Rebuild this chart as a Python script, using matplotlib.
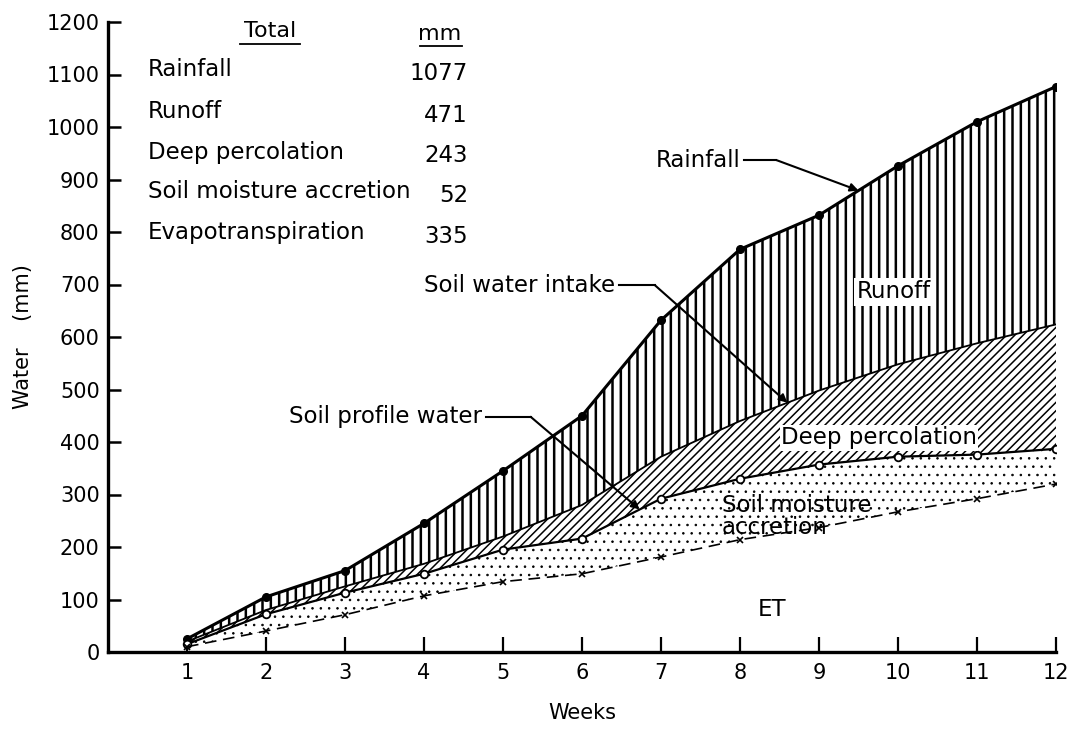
import matplotlib
matplotlib.use("Agg")
import matplotlib.pyplot as plt
import numpy as np

# cumulative water balance (mm)
weeks = np.arange(1, 13)
rainfall = [25, 105, 155, 245, 345, 450, 632, 767, 832, 926, 1010, 1077]
intake = [20, 80, 125, 168, 220, 280, 372, 440, 498, 548, 588, 624]
profile = [15, 72, 113, 149, 195, 216, 292, 330, 357, 372, 376, 387]
et = [10, 40, 71, 107, 134, 149, 181, 214, 237, 267, 292, 320]

table_names = ["Rainfall", "Runoff", "Deep percolation",
               "Soil moisture accretion", "Evapotranspiration"]
table_mm = ["1077", "471", "243", "52", "335"]

plt.rcParams["font.family"] = "DejaVu Sans"
W, H = 1071, 731
fig = plt.figure(figsize=(W / 100, H / 100), dpi=100)
ax = fig.add_axes([108 / W, 1 - 652 / H, (1056 - 108) / W, (652 - 22) / H])

# hatched bands
with plt.rc_context({"hatch.linewidth": 1.8}):
    ax.fill_between(weeks, intake, rainfall, facecolor="none", edgecolor="black",
                    linewidth=0, hatch="||")
with plt.rc_context({"hatch.linewidth": 1.1}):
    ax.fill_between(weeks, profile, intake, facecolor="none", edgecolor="black",
                    linewidth=0, hatch="////")
with plt.rc_context({"hatch.linewidth": 0.6}):
    ax.fill_between(weeks, et, profile, facecolor="none", edgecolor="black",
                    linewidth=0, hatch="..")

ax.plot(weeks, rainfall, color="black", lw=2.2, marker="o", ms=5.5)
ax.plot(weeks, intake, color="black", lw=1.3)
ax.plot(weeks, profile, color="black", lw=1.6, marker="o", ms=5.5,
        markerfacecolor="white", markeredgewidth=1.3)
ax.plot(weeks, et, color="black", lw=1.2, ls=(0, (7, 4)), marker="x", ms=4.5,
        markeredgewidth=1.2)

ax.set_xlim(0, 12)
ax.set_ylim(0, 1200)
ax.set_xticks(weeks)
ax.set_yticks(np.arange(0, 1201, 100))
for s in ["top", "right"]:
    ax.spines[s].set_visible(False)
for s in ["left", "bottom"]:
    ax.spines[s].set_linewidth(2.4)
ax.tick_params(axis="y", direction="in", length=9, width=1.8, labelsize=15, pad=6)
ax.tick_params(axis="x", direction="in", length=11, width=1.6, labelsize=15, pad=8)
ax.set_xlabel("Weeks", fontsize=15, labelpad=14)
ax.set_ylabel("Water    (mm)", fontsize=15, labelpad=10)

# in-plot labels
lab = dict(fontsize=16.5, color="black")
ax.text(9.95, 686, "Runoff", ha="center", va="center",
        bbox=dict(facecolor="white", edgecolor="none", pad=2), **lab)
ax.text(9.76, 408, "Deep percolation", ha="center", va="center",
        bbox=dict(facecolor="white", edgecolor="none", pad=1), **lab)
ax.text(7.77, 258, "Soil moisture\naccretion", ha="left", va="center",
        linespacing=0.9, **lab)
ax.text(8.40, 80, "ET", ha="center", va="center", **lab)


def callout(text, x_text, y_text, x_elbow, x_tip, series):
    y_tip = np.interp(x_tip, weeks, series)
    ax.text(x_text, y_text, text, ha="right", va="center", **lab)
    ax.plot([x_text + 0.05, x_elbow], [y_text, y_text], color="black", lw=1.5)
    ax.annotate("", xy=(x_tip, y_tip), xytext=(x_elbow, y_text),
                arrowprops=dict(arrowstyle="-|>", color="black", lw=1.5,
                                mutation_scale=12, shrinkA=0, shrinkB=0))


callout("Rainfall", 8.0, 937, 8.46, 9.5, rainfall)
callout("Soil water intake", 6.42, 699, 6.92, 8.6, intake)
callout("Soil profile water", 4.73, 448, 5.35, 6.73, profile)

# totals table
fig.text(270 / W, 1 - 31 / H, "Total", ha="center", va="center", fontsize=16)
fig.text(440 / W, 1 - 34 / H, "mm", ha="center", va="center", fontsize=16)
fig.add_artist(plt.Line2D([240 / W, 300 / W], [1 - 44 / H, 1 - 44 / H], color="black", lw=1.3))
fig.add_artist(plt.Line2D([420 / W, 462 / W], [1 - 46 / H, 1 - 46 / H], color="black", lw=1.3))
row_y = [70, 112, 152, 192, 232]
for name, mm, yy in zip(table_names, table_mm, row_y):
    fig.text(148 / W, 1 - yy / H, name, ha="left", va="center", fontsize=16.5)
    fig.text(468 / W, 1 - (yy + 4) / H, mm, ha="right", va="center", fontsize=16.5)

fig.savefig("out.png", dpi=100)
